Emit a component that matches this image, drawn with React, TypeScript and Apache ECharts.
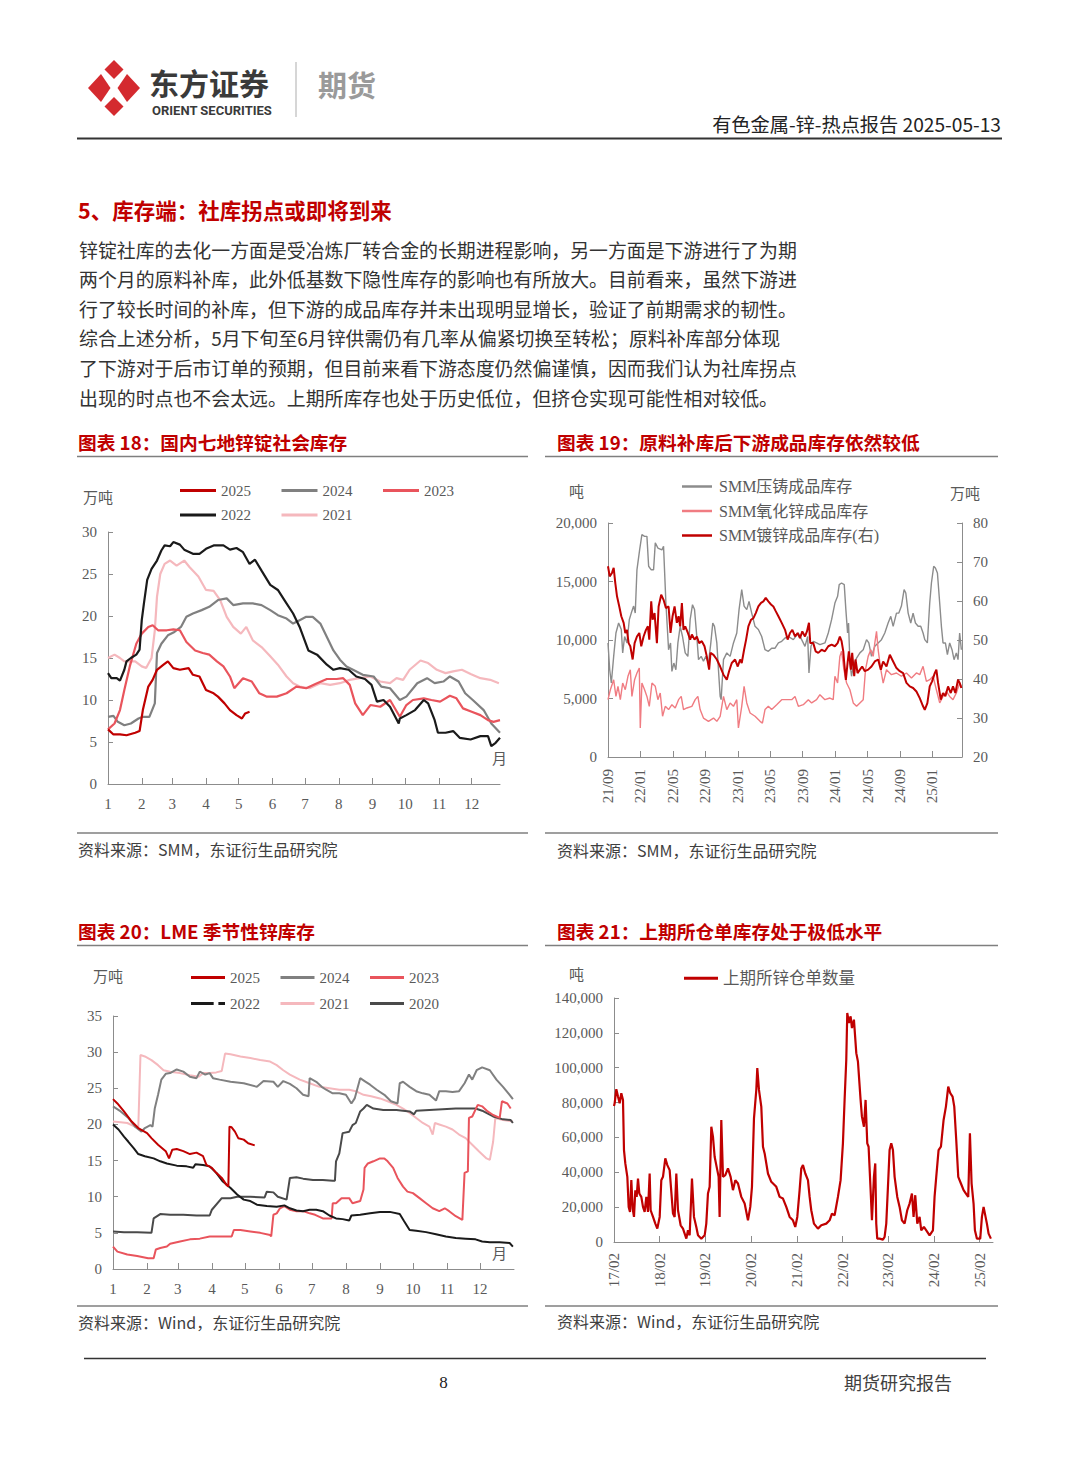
import React, { useEffect, useRef } from "react";
import * as echarts from "echarts";

// ---------- tick values ----------
const MONTH_TICKS = [0, 31, 59, 90, 120, 151, 181, 212, 243, 273, 304, 334];

// ---------- 图表18: 国内七地锌锭社会库存 [day of year, 万吨] ----------
const s18_2025 = [[0,6.5],[5,5.9],[11,5.9],[17,5.8],[25,6.1],[29,6.3],[32,8.8],[37,11.6],[41,12.4],[45,13.6],[51,14.2],[55,14.6],[60,13.8],[66,13.6],[74,13.8],[78,13.0],[84,12.8],[90,11.2],[97,10.8],[101,10.4],[107,9.6],[112,8.8],[118,8.2],[123,7.8],[126,8.4],[130,8.6]];
const s18_2024 = [[0,8.0],[5,8.1],[9,7.4],[15,7.0],[21,7.2],[28,7.8],[32,8.0],[38,8.0],[43,9.6],[45,15.6],[49,16.7],[55,17.7],[61,18.1],[67,18.7],[72,19.9],[78,20.3],[86,20.7],[93,21.1],[101,21.9],[109,22.1],[115,21.3],[124,21.5],[133,21.5],[141,21.3],[149,20.7],[156,20.1],[164,19.7],[170,19.1],[176,19.5],[182,19.9],[188,19.9],[195,19.1],[201,17.5],[207,15.9],[213,14.8],[219,14.0],[225,13.6],[234,13.0],[244,12.8],[251,11.6],[259,11.4],[268,10.0],[274,10.4],[284,12.0],[293,12.6],[300,12.0],[308,12.2],[314,12.8],[322,12.2],[328,10.8],[335,10.0],[345,8.8],[352,7.2],[360,6.1]];
const s18_2023 = [[0,6.5],[6,7.2],[11,8.8],[15,11.2],[20,14.0],[26,16.7],[31,17.9],[37,18.7],[41,18.9],[46,18.3],[54,18.3],[60,18.4],[66,18.3],[72,16.9],[80,15.9],[87,15.6],[93,15.4],[100,14.6],[106,14.0],[112,12.8],[116,11.4],[124,12.6],[132,12.2],[139,10.8],[146,10.4],[155,10.4],[164,10.8],[173,11.6],[182,11.4],[192,12.0],[201,12.5],[210,12.5],[216,12.6],[222,11.8],[227,9.6],[234,8.2],[241,9.4],[250,9.2],[259,10.0],[268,8.0],[274,9.4],[280,10.0],[290,10.2],[297,10.0],[305,9.8],[314,10.5],[320,10.2],[326,9.0],[334,8.6],[342,8.2],[349,7.6],[354,7.4],[360,7.6]];
const s18_2022 = [[0,13.2],[3,12.6],[8,12.6],[11,12.3],[15,13.6],[17,14.6],[21,15.0],[26,15.4],[29,16.0],[31,19.5],[33,21.5],[36,24.3],[40,25.6],[45,26.6],[49,27.8],[52,28.4],[57,28.3],[60,28.8],[66,28.5],[70,27.9],[78,27.4],[84,27.4],[90,28.0],[97,28.4],[106,28.4],[112,27.9],[118,28.1],[124,27.6],[130,26.2],[135,26.7],[141,25.4],[149,23.7],[156,23.1],[162,21.9],[170,20.3],[176,18.7],[184,15.9],[192,15.4],[201,14.2],[207,13.6],[213,13.8],[221,13.6],[228,12.8],[236,12.5],[242,11.8],[247,9.8],[253,10.0],[259,9.2],[267,7.2],[268,7.8],[274,8.2],[282,8.8],[290,10.0],[294,9.6],[300,7.6],[303,6.1],[310,6.1],[317,6.3],[323,5.5],[333,5.3],[342,5.7],[349,5.7],[352,4.5],[356,4.9],[360,5.5]];
const s18_2021 = [[0,15.0],[6,15.4],[11,15.0],[15,14.6],[20,14.6],[25,14.6],[31,14.0],[35,13.8],[40,15.0],[43,18.3],[45,22.3],[48,25.0],[52,26.2],[57,26.6],[63,26.0],[70,26.6],[75,25.8],[83,24.7],[90,23.1],[97,23.0],[103,21.9],[109,19.9],[115,18.7],[122,17.9],[127,18.7],[133,17.1],[141,16.3],[149,15.2],[156,14.2],[164,12.8],[170,12.0],[176,11.6],[185,11.4],[195,12.0],[204,11.8],[213,12.0],[222,12.4],[231,12.6],[241,12.8],[250,12.2],[259,12.0],[265,12.6],[271,12.4],[277,13.6],[287,14.7],[294,14.4],[302,13.6],[310,13.2],[317,13.4],[325,13.6],[333,13.1],[342,12.6],[351,12.4],[359,12.0]];

// ---------- 图表19: 成品库存 [months since 2021-09, value] ----------
const s19_diecast = [[0,9750],[0.21,7460],[0.41,6325],[0.70,8600],[0.98,10600],[1.31,11450],[1.64,10900],[1.81,8900],[2.05,10300],[2.34,9750],[2.63,11750],[2.87,12300],[3.16,12900],[3.36,12300],[3.57,16000],[3.90,17700],[4.18,19000],[4.51,18860],[4.80,18860],[5.01,16300],[5.33,16000],[5.62,16000],[5.83,18300],[6.15,17860],[6.65,17700],[6.85,18000],[7.14,13160],[7.47,9170],[7.71,9750],[7.88,7320],[8.12,8030],[8.37,7460],[8.62,9750],[8.90,11170],[9.19,10300],[9.52,8900],[9.85,8600],[10.13,11740],[10.42,13020],[10.67,12600],[10.95,10300],[11.16,8320],[11.49,8600],[11.77,8180],[12.06,8600],[12.39,8030],[12.68,9750],[12.92,11450],[13.13,11170],[13.42,9750],[13.62,7460],[13.83,5180],[13.95,4900],[14.24,8320],[14.65,8900],[15.06,8600],[15.47,9750],[15.88,10600],[16.16,12600],[16.49,14300],[16.78,12900],[17.11,12600],[17.39,13300],[17.72,12300],[18.13,11170],[18.54,10900],[18.95,10300],[19.36,9170],[19.77,9030],[20.18,9300],[20.60,9300],[21.01,9750],[21.42,9890],[21.83,10170],[22.24,10300],[22.85,10030],[23.47,10600],[23.88,10030],[24.29,9460],[24.62,10300],[24.78,7180],[25.03,9460],[25.31,9890],[25.72,9750],[26.13,9600],[26.75,9750],[27.16,10600],[27.57,11740],[27.98,13160],[28.31,13730],[28.51,14730],[28.80,14870],[29.13,14730],[29.33,12600],[29.54,10600],[29.66,11450],[29.83,8030],[30.03,6900],[30.24,7750],[30.65,8460],[31.06,8900],[31.47,9170],[31.88,10030],[32.16,9750],[32.49,8600],[32.90,9460],[33.31,9750],[33.72,10030],[34.13,10600],[34.54,11450],[34.87,12020],[35.16,11170],[35.57,12300],[35.86,12300],[36.18,12900],[36.51,14300],[36.72,14020],[37.01,12300],[37.33,11450],[37.62,12300],[37.91,11450],[38.24,11170],[38.56,11170],[38.85,10600],[39.06,10030],[39.38,9750],[39.67,13160],[39.88,14870],[40.16,16300],[40.37,16160],[40.62,15730],[40.90,13160],[41.11,11170],[41.31,9750],[41.60,9750],[41.85,8750],[42.13,9750],[42.42,9170],[42.67,8320],[42.95,8900],[43.16,8320],[43.36,10600],[43.57,9170]];
const s19_oxide = [[0,4900],[0.29,5750],[0.70,6600],[0.98,5180],[1.23,6040],[1.52,4900],[1.81,6320],[2.13,5750],[2.46,6900],[2.75,7460],[2.95,5180],[3.28,6610],[3.57,7180],[3.86,7610],[3.98,2480],[4.18,6320],[4.51,5750],[4.80,5180],[5.09,4330],[5.42,6320],[5.83,6040],[6.15,4900],[6.44,5470],[6.73,3480],[7.06,4330],[7.47,4050],[7.88,4470],[8.29,4190],[8.70,4900],[9.03,5180],[9.31,4050],[9.72,4190],[10.34,4330],[10.75,4900],[11.08,5180],[11.36,4050],[11.77,3330],[12.39,3050],[13.01,3330],[13.42,3050],[13.83,3480],[14.24,5180],[14.65,4050],[15.06,4620],[15.47,4330],[15.88,4900],[16.08,2480],[16.49,4330],[16.78,6040],[17.11,4620],[17.52,3760],[18.13,3480],[18.75,3050],[19.04,2900],[19.36,4050],[19.77,4330],[20.18,4050],[20.80,4470],[21.42,4900],[22.03,4900],[22.65,4900],[23.06,5180],[23.47,4330],[24.08,4470],[24.70,4900],[25.11,4620],[25.72,4900],[26.13,5330],[26.75,4900],[27.36,5040],[27.77,4900],[27.98,6900],[28.31,6320],[28.59,8600],[28.80,9030],[29.09,7460],[29.42,6320],[29.83,5750],[30.24,4620],[30.65,4330],[31.06,4620],[31.47,4900],[31.75,7460],[32.08,8600],[32.41,9170],[32.70,8600],[32.90,9750],[33.11,10740],[33.31,9170],[33.64,7460],[33.93,6320],[34.34,7460],[34.95,7040],[35.57,7180],[36.18,6900],[36.80,7180],[37.42,6750],[38.03,7180],[38.44,7040],[38.85,7750],[39.26,6470],[39.67,6610],[40.08,6900],[40.49,5750],[40.90,4620],[41.31,5180],[41.72,5610],[42.13,5180],[42.54,4900],[42.95,5470],[43.36,6320],[43.57,6040]];
const s19_galv = [[0,68.9],[0.21,66.3],[0.49,67.2],[0.70,68.5],[0.90,64.6],[1.11,61.2],[1.39,58.6],[1.64,56.1],[1.93,54.4],[2.13,51.8],[2.34,52.6],[2.54,49.2],[2.75,48.4],[3.04,45.0],[3.28,49.2],[3.57,50.9],[3.86,51.8],[4.10,48.4],[4.39,50.9],[4.68,52.6],[4.92,53.5],[5.09,50.1],[5.33,59.9],[5.50,55.2],[5.74,56.9],[6.03,49.2],[6.24,58.6],[6.56,61.6],[6.85,60.3],[7.14,58.2],[7.47,58.6],[7.71,51.8],[7.96,56.1],[8.21,58.6],[8.49,54.4],[8.70,56.1],[8.90,53.5],[9.11,59.5],[9.31,52.6],[9.52,53.5],[9.85,51.8],[10.13,50.1],[10.34,51.4],[10.67,50.1],[10.95,50.9],[11.24,49.2],[11.57,49.7],[11.90,48.4],[12.18,45.8],[12.47,42.4],[12.64,46.7],[13.01,46.2],[13.42,45.0],[13.83,43.2],[14.24,41.1],[14.65,39.8],[14.93,42.0],[15.26,44.1],[15.67,45.0],[16.00,43.2],[16.29,45.0],[16.49,44.1],[16.78,47.5],[17.03,50.1],[17.31,53.5],[17.64,55.2],[17.93,55.6],[18.22,56.9],[18.54,58.6],[18.87,59.5],[19.16,59.9],[19.45,60.8],[19.77,59.9],[20.10,59.1],[20.39,58.6],[20.68,57.4],[21.01,56.1],[21.42,54.4],[21.83,52.6],[22.15,50.1],[22.44,51.8],[22.73,52.6],[23.06,50.9],[23.38,51.8],[23.67,50.5],[23.96,52.2],[24.29,50.9],[24.53,52.2],[24.78,54.4],[24.94,49.2],[25.31,49.2],[25.60,47.1],[25.93,46.7],[26.34,47.5],[26.75,47.1],[27.16,48.4],[27.57,48.8],[27.98,48.4],[28.31,49.2],[28.59,50.9],[28.80,49.7],[29.01,47.1],[29.13,44.1],[29.33,39.8],[29.54,44.1],[29.70,47.1],[29.95,42.4],[30.11,46.7],[30.36,40.7],[30.52,45.0],[30.77,41.5],[31.06,42.4],[31.34,43.2],[31.67,42.0],[32.08,42.4],[32.49,43.2],[32.90,44.5],[33.31,45.0],[33.64,42.4],[33.93,44.5],[34.34,43.2],[34.75,46.2],[35.16,44.5],[35.57,42.8],[35.98,42.0],[36.39,41.5],[36.80,39.0],[37.21,38.1],[37.62,37.7],[38.03,36.8],[38.44,35.1],[38.85,33.0],[39.06,32.1],[39.38,33.8],[39.67,38.1],[39.96,39.4],[40.29,41.5],[40.49,42.4],[40.70,39.0],[41.03,34.7],[41.31,36.4],[41.60,35.6],[41.93,38.1],[42.26,36.4],[42.54,38.1],[42.83,36.4],[43.16,39.8],[43.36,39.0],[43.57,37.7]];

// ---------- 图表20: LME 季节性锌库存 [day of year, 万吨] ----------
const s20_2025 = [[0,23.5],[4,22.9],[10,21.8],[17,20.4],[23,19.5],[31,18.8],[35,18.1],[41,17.2],[48,16.3],[51,15.3],[54,16.5],[58,16.6],[64,16.3],[70,15.9],[76,16.1],[82,15.6],[85,14.4],[90,14.0],[94,13.3],[99,12.6],[103,11.7],[105,11.4],[106,19.7],[108,19.6],[111,19.0],[114,18.1],[119,17.9],[123,17.4],[129,17.1]];
const s20_2024 = [[0,22.5],[7,21.8],[14,20.9],[20,19.7],[26,19.0],[29,19.5],[34,19.9],[36,19.7],[38,22.2],[41,24.1],[44,26.2],[48,27.0],[52,27.1],[58,27.6],[64,27.3],[70,26.6],[76,26.4],[79,27.3],[84,26.9],[88,27.1],[91,26.4],[97,26.2],[107,25.9],[119,25.7],[131,25.2],[137,26.0],[146,25.9],[150,25.2],[155,26.0],[161,25.6],[167,25.0],[173,24.1],[178,23.9],[179,26.4],[185,25.9],[190,25.2],[194,24.8],[200,24.3],[206,24.3],[212,24.1],[217,22.9],[220,23.6],[225,26.4],[229,26.0],[234,25.5],[240,24.8],[247,24.1],[253,23.2],[259,22.9],[261,25.7],[264,25.9],[270,25.2],[276,24.6],[282,24.3],[288,24.1],[294,23.3],[297,24.6],[303,24.6],[309,24.5],[315,24.6],[320,25.7],[324,26.9],[327,26.2],[331,27.5],[336,27.9],[343,27.5],[349,26.2],[355,25.2],[361,24.1],[364,23.5]];
const s20_2023 = [[0,3.1],[4,2.4],[13,2.0],[22,1.8],[32,1.5],[37,1.5],[39,2.7],[43,2.9],[49,3.1],[52,3.5],[61,3.8],[70,4.1],[79,4.2],[88,4.5],[97,4.5],[108,4.5],[110,5.4],[116,5.4],[125,5.2],[134,5.0],[143,4.7],[144,4.5],[146,7.5],[149,7.7],[152,8.4],[156,8.7],[161,8.2],[167,8.0],[173,8.0],[179,7.7],[184,7.5],[191,7.0],[199,7.0],[200,9.1],[203,9.1],[208,9.8],[211,9.8],[215,9.8],[218,9.1],[225,9.4],[228,11.0],[229,14.0],[232,14.6],[237,14.9],[243,15.3],[247,15.3],[250,14.9],[255,14.0],[259,12.6],[264,11.4],[268,10.7],[273,10.5],[279,9.8],[285,9.1],[291,8.4],[297,8.0],[302,8.4],[306,8.0],[312,7.3],[318,6.8],[320,13.3],[323,13.5],[324,20.9],[327,21.1],[332,22.7],[336,22.5],[341,21.8],[346,21.3],[352,20.9],[354,23.2],[359,22.9],[362,22.2]];
const s20_2022 = [[0,20.0],[5,19.3],[10,18.3],[14,17.6],[19,16.7],[23,15.9],[29,15.6],[37,15.3],[43,14.9],[49,14.6],[58,14.3],[67,14.2],[73,14.0],[75,14.5],[82,14.4],[88,14.2],[94,13.3],[100,12.1],[107,11.2],[113,10.3],[119,9.6],[125,9.4],[131,8.9],[140,8.7],[149,8.6],[156,8.8],[161,8.4],[167,8.1],[173,8.0],[179,8.2],[185,8.2],[191,8.0],[197,7.4],[203,7.0],[209,6.9],[215,6.7],[217,7.4],[225,7.5],[234,7.7],[243,7.9],[252,7.9],[261,7.6],[265,6.6],[270,5.4],[276,5.3],[285,5.1],[294,4.8],[303,4.5],[312,4.3],[321,4.2],[330,4.1],[336,3.8],[343,3.7],[352,3.7],[361,3.6],[364,3.1]];
const s20_2021 = [[0,20.4],[7,20.3],[13,20.2],[20,19.7],[23,19.5],[25,29.6],[29,29.4],[35,28.9],[41,28.2],[46,27.5],[52,27.3],[61,27.1],[70,26.8],[78,26.6],[82,27.1],[88,27.1],[94,27.2],[99,27.4],[102,29.8],[107,29.7],[116,29.4],[125,29.2],[134,28.9],[143,28.7],[149,28.2],[155,27.5],[161,26.9],[170,26.2],[179,25.7],[188,25.2],[197,25.0],[206,24.8],[215,24.8],[221,24.6],[228,24.1],[235,23.9],[243,23.6],[250,23.2],[258,22.7],[264,22.2],[270,21.6],[276,20.9],[282,20.2],[288,19.7],[291,18.6],[293,20.2],[297,20.0],[303,19.7],[309,19.3],[315,18.6],[321,18.1],[327,17.2],[333,16.3],[340,15.3],[343,15.1],[346,17.6],[348,20.9],[355,20.6],[364,20.4]];
const s20_2020 = [[0,5.2],[10,5.1],[22,5.1],[35,5.0],[37,7.0],[43,7.6],[52,7.5],[64,7.5],[76,7.4],[88,7.4],[90,8.2],[99,9.8],[107,9.8],[113,10.0],[119,10.0],[125,10.0],[138,9.9],[140,10.7],[146,10.6],[150,10.0],[158,9.6],[161,12.6],[167,12.7],[173,12.5],[182,12.3],[191,12.3],[200,12.2],[202,12.2],[203,14.9],[206,16.0],[209,18.8],[215,19.0],[218,19.9],[221,20.2],[225,21.8],[228,22.2],[231,22.7],[237,22.2],[246,22.0],[258,22.0],[270,21.8],[274,21.4],[276,21.9],[288,22.0],[300,22.1],[312,22.2],[321,22.2],[330,22.2],[336,21.9],[346,21.1],[355,20.7],[362,20.6],[364,20.2]];

// ---------- 图表21: 上期所锌仓单数量 [months since 2017-02, 吨] ----------
const s21_shfe = [[0,78000],[0.17,79600],[0.61,87650],[1.05,83430],[1.49,79600],[1.92,85350],[2.36,81520],[2.62,52740],[2.97,45070],[3.50,37400],[3.85,20140],[4.20,17260],[4.55,35480],[4.90,19180],[5.25,14390],[5.60,29730],[5.95,25890],[6.30,36440],[6.65,27810],[7.17,25890],[7.61,20140],[8.05,17260],[8.49,25890],[8.92,17260],[9.36,39320],[9.62,18220],[10.24,14390],[10.85,10550],[11.37,7670],[11.99,14390],[12.42,35480],[12.86,37400],[13.47,47950],[14.00,44120],[14.61,41240],[15.49,16300],[15.92,14390],[16.36,39320],[16.80,18220],[17.50,9590],[18.11,7670],[18.55,4800],[18.99,1920],[19.42,6710],[19.86,3840],[20.47,36440],[21.00,14390],[21.61,8630],[22.05,3840],[22.92,1920],[23.80,3840],[24.23,10550],[24.67,27810],[25.11,31650],[25.55,66170],[25.98,60410],[26.42,48910],[27.12,41240],[27.47,37400],[27.73,14390],[28.17,70010],[28.61,37400],[29.22,38360],[29.92,42200],[30.62,37400],[31.23,29730],[31.85,35480],[32.55,33560],[33.42,25890],[34.30,22050],[35.17,12470],[35.78,20140],[36.22,31650],[36.75,70970],[37.36,87270],[37.62,99740],[38.06,87270],[38.67,77680],[39.11,54660],[39.55,50830],[40.42,39320],[41.29,34520],[42.61,31650],[43.48,25890],[44.36,24930],[45.23,20140],[46.11,14390],[46.98,12470],[47.59,8630],[48.12,14390],[48.73,29730],[49.17,42200],[49.61,44120],[50.22,39320],[50.92,35480],[51.36,25890],[51.79,18220],[52.49,10550],[53.54,7670],[54.42,9590],[55.73,10550],[56.61,12470],[57.22,16300],[57.92,15340],[58.79,25890],[59.49,35480],[60.10,56580],[60.54,81520],[60.98,104540],[61.24,131390],[61.68,125630],[62.12,129470],[62.47,122760],[62.99,127550],[63.61,108370],[64.04,103570],[64.74,81520],[65.09,71930],[65.62,66170],[66.05,81520],[66.49,56580],[66.84,54660],[67.37,29730],[67.72,12470],[68.24,37400],[68.59,45070],[68.85,10550],[69.11,1920],[69.73,1920],[70.60,1340],[71.04,2880],[71.48,10550],[71.92,31650],[72.35,52740],[72.79,56580],[73.23,52740],[73.67,37400],[74.37,25890],[74.98,20140],[75.59,12470],[76.29,10550],[76.99,18220],[77.60,22050],[78.22,27810],[78.65,14390],[79.09,26850],[79.62,10550],[80.23,14390],[80.66,6710],[81.36,8630],[81.98,6710],[82.85,3840],[83.73,6710],[84.16,25890],[84.60,37400],[85.21,52740],[85.83,54660],[86.53,70010],[87.14,77680],[87.75,89190],[88.28,85350],[88.89,83430],[89.33,77680],[89.85,58500],[90.38,37400],[91.08,33560],[91.78,29730],[92.39,27810],[93.00,25890],[93.44,62330],[93.88,33560],[94.40,22050],[94.75,6710],[95.28,1920],[96.15,1920],[96.59,14390],[97.03,20140],[97.38,16300],[97.90,10550],[98.34,4800],[98.95,1920]];

// ---------- page texts ----------
const PARAGRAPH = [
  "锌锭社库的去化一方面是受冶炼厂转合金的长期进程影响，另一方面是下游进行了为期",
  "两个月的原料补库，此外低基数下隐性库存的影响也有所放大。目前看来，虽然下游进",
  "行了较长时间的补库，但下游的成品库存并未出现明显增长，验证了前期需求的韧性。",
  "综合上述分析，5月下旬至6月锌供需仍有几率从偏紧切换至转松；原料补库部分体现",
  "了下游对于后市订单的预期，但目前来看下游态度仍然偏谨慎，因而我们认为社库拐点",
  "出现的时点也不会太远。上期所库存也处于历史低位，但挤仓实现可能性相对较低。",
];

const SERIF = "'Liberation Serif', 'Noto Sans CJK SC', serif";
const CJK = "'Noto Sans CJK SC', sans-serif";
const AXIS_COLOR = "#8c8c8c";
const LABEL_COLOR = "#595959";
const RED_TITLE = "#C00000";

const C_DARKRED = "#C00000";
const C_GRAY = "#808080";
const C_SALMON = "#E9545C";
const C_BLACK = "#1a1a1a";
const C_PINK = "#F5B8BD";
const C_DGRAY = "#4a4a4a";

const ICON_SOLID = "path://M0,0H36V3H0Z";
const ICON_DASH = "path://M0,0H24V3H0ZM29,0H36V3H29Z";

function T(text: string, x: number, y: number, o: any = {}) {
  return {
    type: "text",
    x,
    y,
    silent: true,
    style: {
      text,
      fill: o.fill || "#333",
      fontSize: o.size || 16,
      fontFamily: o.family || CJK,
      fontWeight: o.weight || "normal",
      textAlign: o.align || "left",
      textVerticalAlign: "middle",
    },
  };
}
function L(x1: number, y1: number, x2: number, y2: number, stroke: string, w: number) {
  return { type: "line", silent: true, shape: { x1, y1, x2, y2 }, style: { stroke, lineWidth: w } };
}

const axisLine = { show: true, lineStyle: { color: AXIS_COLOR, width: 1 } };
const tick = (len: number, extra: any = {}) => ({ show: true, inside: true, length: len, lineStyle: { color: AXIS_COLOR, width: 1 }, ...extra });
const lbl = (extra: any = {}) => ({ color: LABEL_COLOR, fontSize: 15, fontFamily: SERIF, ...extra });
const noSplit = { show: false };

function ymLabel(baseYear: number, baseMonth0: number, v: number) {
  const t = baseYear * 12 + baseMonth0 + Math.round(v);
  const y = Math.floor(t / 12) % 100;
  const m = (t % 12) + 1;
  return `${String(y).padStart(2, "0")}/${String(m).padStart(2, "0")}`;
}

function line(name: string, data: number[][], color: string, width: number, xi: number, yi: number) {
  return {
    type: "line",
    name,
    data,
    xAxisIndex: xi,
    yAxisIndex: yi,
    symbol: "none",
    showSymbol: false,
    silent: true,
    lineStyle: { color, width },
    itemStyle: { color },
    emphasis: { disabled: true },
  };
}

function buildOption() {
  const legText = { color: LABEL_COLOR, fontSize: 15, fontFamily: SERIF };
  const strip = (n: string) => n.slice(1);
  const legBase = { padding: 0, itemWidth: 36, itemHeight: 3, icon: ICON_SOLID, selectedMode: false, textStyle: legText };

  const graphic: any[] = [
    // logo
    { type: "polygon", silent: true, shape: { points: [[114, 60], [123.5, 69.5], [114, 79], [104.5, 69.5]] }, style: { fill: "#D42A2F" } },
    { type: "polygon", silent: true, shape: { points: [[114, 97], [123.5, 106.5], [114, 116], [104.5, 106.5]] }, style: { fill: "#D42A2F" } },
    { type: "polygon", silent: true, shape: { points: [[88, 88], [101, 74], [110.5, 88], [101, 102]] }, style: { fill: "#D42A2F" } },
    { type: "polygon", silent: true, shape: { points: [[140, 88], [127, 74], [117.5, 88], [127, 102]] }, style: { fill: "#D42A2F" } },
    T("东方证券", 149, 82, { size: 30, weight: "bold", fill: "#3a3a3a" }),
    T("ORIENT SECURITIES", 152, 110, { size: 13, weight: "bold", fill: "#3a3a3a", family: "Roboto, sans-serif" }),
    L(296, 62, 296, 117, "#c8c8c8", 1.5),
    T("期货", 318, 84, { size: 29, weight: "bold", fill: "#9a9a9a" }),
    T("有色金属-锌-热点报告 2025-05-13", 1001, 124, { size: 19.2, fill: "#222", align: "right" }),
    L(77, 138.5, 1002, 138.5, "#333", 2),
    // section heading & paragraph
    T("5、库存端：社库拐点或即将到来", 78, 209, { size: 21.5, weight: "bold", fill: RED_TITLE }),
    ...PARAGRAPH.map((s, i) => T(s, 79, 249 + i * 29.6, { size: 18.9, fill: "#333" })),
    // chart titles
    T("图表 18：国内七地锌锭社会库存", 78, 441, { size: 18.7, weight: "bold", fill: RED_TITLE }),
    T("图表 19：原料补库后下游成品库存依然较低", 557, 441, { size: 18.7, weight: "bold", fill: RED_TITLE }),
    T("图表 20：LME 季节性锌库存", 78, 930, { size: 18.7, weight: "bold", fill: RED_TITLE }),
    T("图表 21：上期所仓单库存处于极低水平", 557, 930, { size: 18.7, weight: "bold", fill: RED_TITLE }),
    L(77, 456.5, 528, 456.5, "#7f7f7f", 1.5),
    L(545, 456.5, 998, 456.5, "#7f7f7f", 1.5),
    L(77, 945.5, 528, 945.5, "#7f7f7f", 1.5),
    L(545, 945.5, 998, 945.5, "#7f7f7f", 1.5),
    L(77, 833, 528, 833, "#7f7f7f", 1.5),
    L(545, 833, 998, 833, "#7f7f7f", 1.5),
    L(77, 1306, 528, 1306, "#7f7f7f", 1.5),
    L(545, 1306, 998, 1306, "#7f7f7f", 1.5),
    T("资料来源：SMM，东证衍生品研究院", 78, 849, { size: 16, fill: "#404040" }),
    T("资料来源：SMM，东证衍生品研究院", 557, 850, { size: 16, fill: "#404040" }),
    T("资料来源：Wind，东证衍生品研究院", 78, 1322, { size: 16, fill: "#404040" }),
    T("资料来源：Wind，东证衍生品研究院", 557, 1321, { size: 16, fill: "#404040" }),
    // units
    T("万吨", 83, 496, { size: 15, fill: LABEL_COLOR }),
    T("月", 492, 757, { size: 15, fill: LABEL_COLOR }),
    T("吨", 569, 490, { size: 15, fill: LABEL_COLOR }),
    T("万吨", 950, 492, { size: 15, fill: LABEL_COLOR }),
    T("万吨", 93, 975, { size: 15, fill: LABEL_COLOR }),
    T("月", 492, 1252, { size: 15, fill: LABEL_COLOR }),
    T("吨", 569, 973, { size: 15, fill: LABEL_COLOR }),
    // footer
    L(84, 1358.5, 986, 1358.5, "#333", 1.5),
    T("8", 443.5, 1382, { size: 17, family: SERIF, align: "center", fill: "#222" }),
    T("期货研究报告", 952, 1382, { size: 18, fill: "#404040", align: "right" }),
  ];

  return {
    animation: false,
    backgroundColor: "#ffffff",
    textStyle: { fontFamily: SERIF },
    grid: [
      { left: 108, top: 532, width: 392, height: 252 },
      { left: 608, top: 523, width: 354, height: 234 },
      { left: 113, top: 1016, width: 401, height: 253 },
      { left: 614, top: 998, width: 379, height: 244 },
    ],
    xAxis: [
      {
        type: "value", gridIndex: 0, min: 0, max: 360,
        axisLine, splitLine: noSplit,
        axisTick: tick(6, { customValues: MONTH_TICKS }),
        axisLabel: lbl({ margin: 12, customValues: MONTH_TICKS, formatter: (v: number) => String(MONTH_TICKS.indexOf(v) + 1) }),
      },
      {
        type: "value", gridIndex: 1, min: 0, max: 43.65, interval: 4,
        axisLine, splitLine: noSplit, axisTick: tick(6),
        axisLabel: lbl({ margin: 12, rotate: 90, showMaxLabel: false, formatter: (v: number) => ymLabel(2021, 8, v) }),
      },
      {
        type: "value", gridIndex: 2, min: 0, max: 365,
        axisLine, splitLine: noSplit,
        axisTick: tick(6, { customValues: MONTH_TICKS }),
        axisLabel: lbl({ margin: 12, customValues: MONTH_TICKS, formatter: (v: number) => String(MONTH_TICKS.indexOf(v) + 1) }),
      },
      {
        type: "value", gridIndex: 3, min: 0, max: 99.5, interval: 12,
        axisLine, splitLine: noSplit, axisTick: tick(6),
        axisLabel: lbl({ margin: 11, rotate: 90, showMaxLabel: false, formatter: (v: number) => ymLabel(2017, 1, v) }),
      },
    ],
    yAxis: [
      { type: "value", gridIndex: 0, min: 0, max: 30, interval: 5, axisLine, splitLine: noSplit, axisTick: tick(5), axisLabel: lbl({ margin: 11 }) },
      {
        type: "value", gridIndex: 1, min: 0, max: 20000, interval: 5000, axisLine, splitLine: noSplit, axisTick: tick(5),
        axisLabel: lbl({ margin: 11, formatter: (v: number) => v.toLocaleString("en-US") }),
      },
      { type: "value", gridIndex: 1, position: "right", min: 20, max: 80, interval: 10, axisLine, splitLine: noSplit, axisTick: tick(5), axisLabel: lbl({ margin: 11 }) },
      { type: "value", gridIndex: 2, min: 0, max: 35, interval: 5, axisLine, splitLine: noSplit, axisTick: tick(5), axisLabel: lbl({ margin: 11 }) },
      {
        type: "value", gridIndex: 3, min: 0, max: 140000, interval: 20000, axisLine, splitLine: noSplit, axisTick: tick(5),
        axisLabel: lbl({ margin: 11, formatter: (v: number) => v.toLocaleString("en-US") }),
      },
    ],
    legend: [
      { ...legBase, left: 180, top: 483, itemGap: 30.5, formatter: strip, data: ["a2025", "a2024", "a2023"] },
      { ...legBase, left: 180, top: 507.5, itemGap: 30.5, formatter: strip, data: ["a2022", "a2021"] },
      {
        ...legBase, left: 682, top: 478.5, orient: "vertical", itemWidth: 34, itemHeight: 2.5, itemGap: 8.5,
        textStyle: { ...legText, fontSize: 16 },
        data: ["SMM压铸成品库存", "SMM氧化锌成品库存", "SMM镀锌成品库存(右)"],
      },
      { ...legBase, left: 191, top: 970, itemWidth: 34, itemGap: 20.5, formatter: strip, data: ["b2025", "b2024", "b2023"] },
      {
        ...legBase, left: 191, top: 996, itemWidth: 34, itemGap: 20.5, formatter: strip,
        data: [{ name: "b2022", icon: ICON_DASH }, "b2021", "b2020"],
      },
      { ...legBase, left: 684, top: 970, itemWidth: 34, textStyle: { ...legText, fontSize: 16.5 }, data: ["上期所锌仓单数量"] },
    ],
    series: [
      // chart 18
      line("a2021", s18_2021, C_PINK, 2.2, 0, 0),
      line("a2024", s18_2024, C_GRAY, 2.2, 0, 0),
      line("a2023", s18_2023, C_SALMON, 2.2, 0, 0),
      line("a2022", s18_2022, C_BLACK, 2.2, 0, 0),
      line("a2025", s18_2025, C_DARKRED, 2.2, 0, 0),
      // chart 19
      line("SMM压铸成品库存", s19_diecast, "#8c8c8c", 1.4, 1, 1),
      line("SMM氧化锌成品库存", s19_oxide, "#F07C82", 1.4, 1, 1),
      line("SMM镀锌成品库存(右)", s19_galv, C_DARKRED, 2, 1, 2),
      // chart 20
      line("b2021", s20_2021, C_PINK, 2, 2, 3),
      line("b2024", s20_2024, C_GRAY, 2, 2, 3),
      line("b2020", s20_2020, C_DGRAY, 2, 2, 3),
      line("b2023", s20_2023, C_SALMON, 2, 2, 3),
      line("b2022", s20_2022, C_BLACK, 2, 2, 3),
      line("b2025", s20_2025, C_DARKRED, 2, 2, 3),
      // chart 21
      line("上期所锌仓单数量", s21_shfe, C_DARKRED, 2.2, 3, 4),
    ],
    graphic,
  };
}

export default function App() {
  const ref = useRef<HTMLDivElement>(null);
  useEffect(() => {
    if (!ref.current) return;
    const chart = echarts.init(ref.current, null, { renderer: "svg" });
    chart.setOption(buildOption() as any);
    return () => chart.dispose();
  }, []);
  return (
    <div
      ref={ref}
      style={{ position: "absolute", left: 0, top: 0, width: 1080, height: 1466, background: "#fff" }}
    />
  );
}
